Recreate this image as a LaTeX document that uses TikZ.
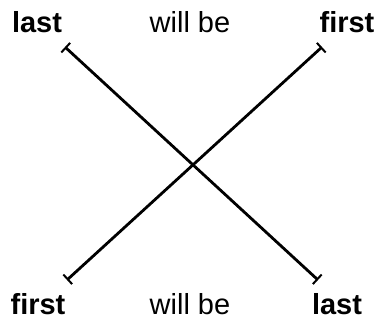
\documentclass[tikz,border=0pt]{standalone}
\usepackage{fontspec}
\setmainfont{Liberation Sans}
\usetikzlibrary{arrows.meta}

\begin{document}
\begin{tikzpicture}[x=1pt, y=1pt, every node/.style={font=\fontsize{29}{32}\selectfont, inner sep=0pt, anchor=base}, word/.style={font=\fontsize{29}{32}\selectfont\bfseries}, link/.style={font=\fontsize{29}{32}\selectfont}, bar/.style={{Bar[width=13pt, line width=2pt]}-{Bar[width=13pt, line width=2pt]}, line width=2.8pt, draw=black}]
\useasboundingbox (0,0) rectangle (376,320);
% top row: last ... will be ... first
\node[word] (lastT) at (37,287) {last};
\node[link] (willT) at (190,287) {will be};
\node[word] (firstT) at (347,287) {first};
% bottom row: first ... will be ... last
\node[word] (firstB) at (38,5) {first};
\node[link] (willB) at (190,5) {will be};
\node[word] (lastB) at (337,5) {last};
% ends of the two crossing bars
\coordinate (tl) at (65,273);
\coordinate (tr) at (322,273);
\coordinate (bl) at (67,40);
\coordinate (br) at (318,40);
\draw[bar] (tl) -- (br);
\draw[bar] (bl) -- (tr);
\end{tikzpicture}
\end{document}
